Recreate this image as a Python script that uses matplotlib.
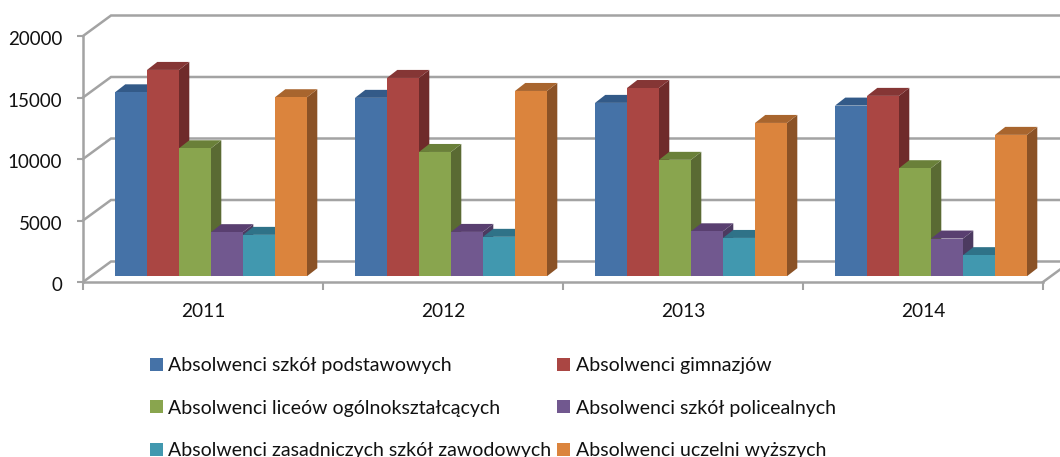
import matplotlib
matplotlib.use("Agg")
import matplotlib.pyplot as plt
from matplotlib.patches import Polygon, Patch
from matplotlib.transforms import ScaledTranslation

plt.rcParams['font.family'] = ['Lato', 'DejaVu Sans']

years = ['2011', '2012', '2013', '2014']
series_names = ['Absolwenci szkół podstawowych', 'Absolwenci gimnazjów',
                'Absolwenci liceów ogólnokształcących', 'Absolwenci szkół policealnych',
                'Absolwenci zasadniczych szkół zawodowych', 'Absolwenci uczelni wyższych']
podstawowe = [14950, 14500, 14090, 13870]
gimnazja = [16770, 16120, 15300, 14660]
licea = [10400, 10100, 9460, 8780]
policealne = [3580, 3600, 3650, 3060]
zawodowe = [3360, 3200, 3110, 1710]
uczelnie = [14550, 15060, 12460, 11490]
series = [podstawowe, gimnazja, licea, policealne, zawodowe, uczelnie]
y_ticks = [0, 5000, 10000, 15000, 20000]

front = ['#4572A7', '#AA4643', '#89A54E', '#71588F', '#4198AF', '#DB843D']
side = ['#2F4F76', '#6F2B2A', '#5A6A33', '#4C3A60', '#2B6A7C', '#8B5226']
top = ['#335A88', '#853635', '#6A8039', '#593F70', '#2F7288', '#A8652E']
grid_c = '#A3A3A3'

W, H = 1060, 457
fig = plt.figure(figsize=(W / 100, H / 100), dpi=100)
ax = fig.add_axes([83 / W, 1 - 282 / H, 960 / W, 246 / H])
ax.set_xlim(0, 4)
ax.set_ylim(0, 20000)
px_x = 4 / 960
px_y = 20000 / 246

# oblique projection depths, px -> data units
wall_dx, wall_dy = 28 * px_x, 20.5 * px_y
base_dx, base_dy = 8 * px_x, 5.8 * px_y
bar_dx, bar_dy = 10.3 * px_x, 8 * px_y
group_w = 0.8
bar_w = group_w / len(series)

# walls
for v in y_ticks:
    ax.plot([0, wall_dx, 4 + wall_dx], [v, v + wall_dy, v + wall_dy], color=grid_c,
            lw=1.8, clip_on=False, zorder=1, solid_joinstyle='miter')
ax.plot([4, 4 + wall_dx], [0, wall_dy], color=grid_c, lw=1.8, clip_on=False, zorder=1)

# bars
for c in range(len(years)):
    start = c + (1 - group_w) / 2 + base_dx
    for i, vals in enumerate(series):
        x0 = start + i * bar_w
        x1 = x0 + bar_w
        y0 = base_dy
        y1 = base_dy + vals[c]
        ax.add_patch(Polygon([(x1, y0), (x1 + bar_dx, y0 + bar_dy), (x1 + bar_dx, y1 + bar_dy), (x1, y1)],
                             fc=side[i], ec='none', clip_on=False, zorder=3))
        ax.add_patch(Polygon([(x0, y1), (x1, y1), (x1 + bar_dx, y1 + bar_dy), (x0 + bar_dx, y1 + bar_dy)],
                             fc=top[i], ec='none', clip_on=False, zorder=3))
        ax.add_patch(Polygon([(x0, y0), (x1, y0), (x1, y1), (x0, y1)],
                             fc=front[i], ec='none', clip_on=False, zorder=3))

for s in ['top', 'right']:
    ax.spines[s].set_visible(False)
for s in ['left', 'bottom']:
    ax.spines[s].set_color(grid_c)
    ax.spines[s].set_linewidth(1.8)
ax.set_yticks(y_ticks)
ax.set_xticks(range(5))
ax.set_xticklabels([])
ax.set_xticks([i + 0.5 for i in range(4)], minor=True)
ax.set_xticklabels(years, minor=True)
ax.tick_params(axis='x', which='major', length=5.5, width=1.5, color=grid_c)
ax.tick_params(axis='x', which='minor', length=0, labelsize=13.8, pad=15, labelcolor='#111111')
ax.tick_params(axis='y', length=4, width=1.5, color=grid_c, labelsize=13.5, pad=11, labelcolor='#111111')
ax.patch.set_alpha(0)
for lab in ax.get_yticklabels():
    lab.set_transform(lab.get_transform() + ScaledTranslation(0, -1.5 / 72, fig.dpi_scale_trans))

handles = [Patch(fc=c, ec='none') for c in front]
# matplotlib fills legend columns first, so order names by column
order = [0, 2, 4, 1, 3, 5]
fig.legend([handles[i] for i in order], [series_names[i] for i in order], ncol=2,
           loc='upper left', bbox_to_anchor=(150 / W, 1 - 357 / H), frameon=False,
           fontsize=14.05, handlelength=0.67, handleheight=0.67, handletextpad=0.27,
           labelspacing=1.31, columnspacing=0.3, borderpad=0, borderaxespad=0,
           labelcolor='#111111')

fig.savefig('out.png', dpi=100)
